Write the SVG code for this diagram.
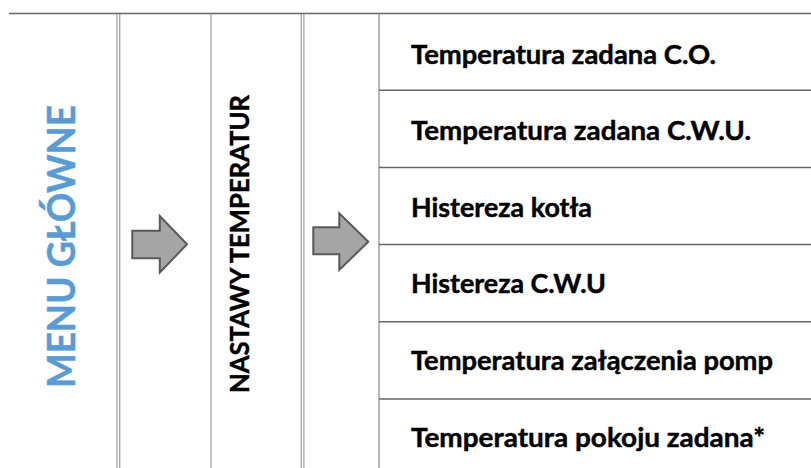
<svg xmlns="http://www.w3.org/2000/svg" width="811" height="468" viewBox="0 0 811 468">
<style>
.grid{stroke:#a3a3a3;stroke-width:1.3;fill:none}
.sep{stroke:#666;stroke-width:1.6;fill:none}
.t{font-family:Lato,"Liberation Sans",sans-serif;font-weight:700;fill:#000;stroke:#000;stroke-width:0.45}
.row{font-size:27px}
.vt{font-size:26.5px}
.menu{font-size:39px;fill:#5b9bd5;stroke:#5b9bd5}
.arrow{fill:#a5a5a5;stroke:#595959;stroke-width:2;stroke-linejoin:miter}
</style>
<rect width="811" height="468" fill="#fff"/>
<g id="grid">
<line class="sep" x1="9" y1="13.5" x2="811" y2="13.5"/>
<line class="grid" x1="117" y1="14" x2="117" y2="468"/>
<line class="grid" x1="119.7" y1="14" x2="119.7" y2="468"/>
<line class="grid" x1="211" y1="14" x2="211" y2="468"/>
<line class="grid" x1="301.3" y1="14" x2="301.3" y2="468"/>
<line class="grid" x1="303.9" y1="14" x2="303.9" y2="468"/>
<line class="grid" x1="379" y1="14" x2="379" y2="468" style="stroke:#939393"/>
<line class="sep" x1="379" y1="90.3" x2="811" y2="90.3"/>
<line class="sep" x1="379" y1="167.5" x2="811" y2="167.5"/>
<line class="sep" x1="379" y1="244.5" x2="811" y2="244.5"/>
<line class="sep" x1="379" y1="321.8" x2="811" y2="321.8"/>
<line class="sep" x1="379" y1="399" x2="811" y2="399"/>
</g>
<g id="menu-glowne">
<text class="t menu" transform="translate(75,246.5) rotate(-90)" text-anchor="middle" textLength="283" lengthAdjust="spacingAndGlyphs">MENU GŁÓWNE</text>
</g>
<g id="nastawy-temperatur">
<text class="t vt" transform="translate(249,244) rotate(-90)" text-anchor="middle" textLength="298" lengthAdjust="spacingAndGlyphs">NASTAWY TEMPERATUR</text>
</g>
<g id="connectors">
<path class="arrow" d="M132.3,230.7 H159.8 V216 L187,244.3 L159.8,272.5 V258.3 H132.3 Z"/>
<path class="arrow" d="M313.3,227.3 H339.3 V213.3 L368.3,241.7 L339.3,270 V254.3 H313.3 Z"/>
</g>
<g id="row-1"><text class="t row" x="411" y="63.5" textLength="305" lengthAdjust="spacingAndGlyphs">Temperatura zadana C.O.</text></g>
<g id="row-2"><text class="t row" x="411" y="140" textLength="340" lengthAdjust="spacingAndGlyphs">Temperatura zadana C.W.U.</text></g>
<g id="row-3"><text class="t row" x="411" y="216.5" textLength="181" lengthAdjust="spacingAndGlyphs">Histereza kotła</text></g>
<g id="row-4"><text class="t row" x="411" y="292.5" textLength="195" lengthAdjust="spacingAndGlyphs">Histereza C.W.U</text></g>
<g id="row-5"><text class="t row" x="411" y="369.5" textLength="362" lengthAdjust="spacingAndGlyphs">Temperatura załączenia pomp</text></g>
<g id="row-6"><text class="t row" x="411" y="447" textLength="354" lengthAdjust="spacingAndGlyphs">Temperatura pokoju zadana*</text></g>
</svg>
